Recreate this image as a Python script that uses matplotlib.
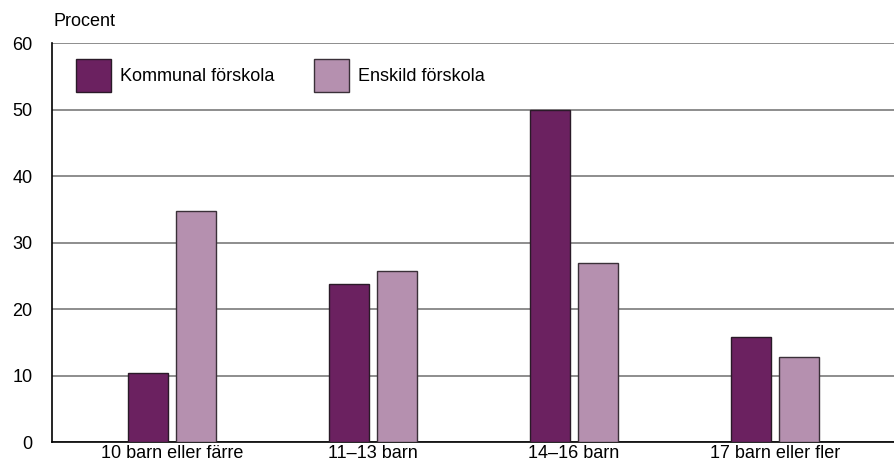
import matplotlib
matplotlib.use("Agg")
import matplotlib.pyplot as plt
import numpy as np

categories = ["10 barn eller färre", "11–13 barn", "14–16 barn", "17 barn eller fler"]
kommunal = [10.4, 23.8, 50.0, 15.8]
enskild = [34.7, 25.7, 26.9, 12.8]
series_names = ["Kommunal förskola", "Enskild förskola"]
yticks = [0, 10, 20, 30, 40, 50, 60]

plt.rcParams['font.family'] = ['Liberation Sans', 'DejaVu Sans']
FS = 13

fig = plt.figure(figsize=(8.95, 4.65), dpi=100)
ax = fig.add_axes([52/895, 23/465, 1 - 52/895, (442-43)/465])

x = np.arange(len(categories))
w = 0.199
off = 0.117
c1 = "#6B2160"
c2 = "#B590AF"
ax.bar(x - off, kommunal, w, color=c1, edgecolor="#2a1a28", linewidth=1.0, zorder=3, label=series_names[0])
ax.bar(x + off, enskild, w, color=c2, edgecolor="#3a3038", linewidth=1.0, zorder=3, label=series_names[1])

ax.set_xlim(-0.597, 3.597)
ax.set_ylim(0, 60)
ax.set_yticks(yticks)
ax.set_yticklabels([str(t) for t in yticks], fontsize=FS)
ax.set_xticks(x)
ax.set_xticklabels(categories, fontsize=FS)
ax.tick_params(axis='y', length=0, pad=14)
ax.tick_params(axis='x', length=0, pad=2)
ax.yaxis.grid(True, color="#7a7a7a", linewidth=1.2, zorder=0)
ax.set_axisbelow(True)
for s in ["top", "right"]:
    ax.spines[s].set_visible(False)
ax.spines["left"].set_color("black")
ax.spines["bottom"].set_color("black")
ax.spines["left"].set_linewidth(1.2)
ax.spines["bottom"].set_linewidth(1.2)

fig.text(54/895, 1 - 21/465, "Procent", fontsize=FS, va="center", ha="left")

ax.legend(loc="upper left", bbox_to_anchor=((76-52)/843, 1 - 16/399), ncol=2, frameon=False,
          fontsize=FS, handlelength=1.94, handleheight=2.44, handletextpad=0.5,
          columnspacing=2.2, borderaxespad=0, borderpad=0)

fig.savefig("out.png", dpi=100)
